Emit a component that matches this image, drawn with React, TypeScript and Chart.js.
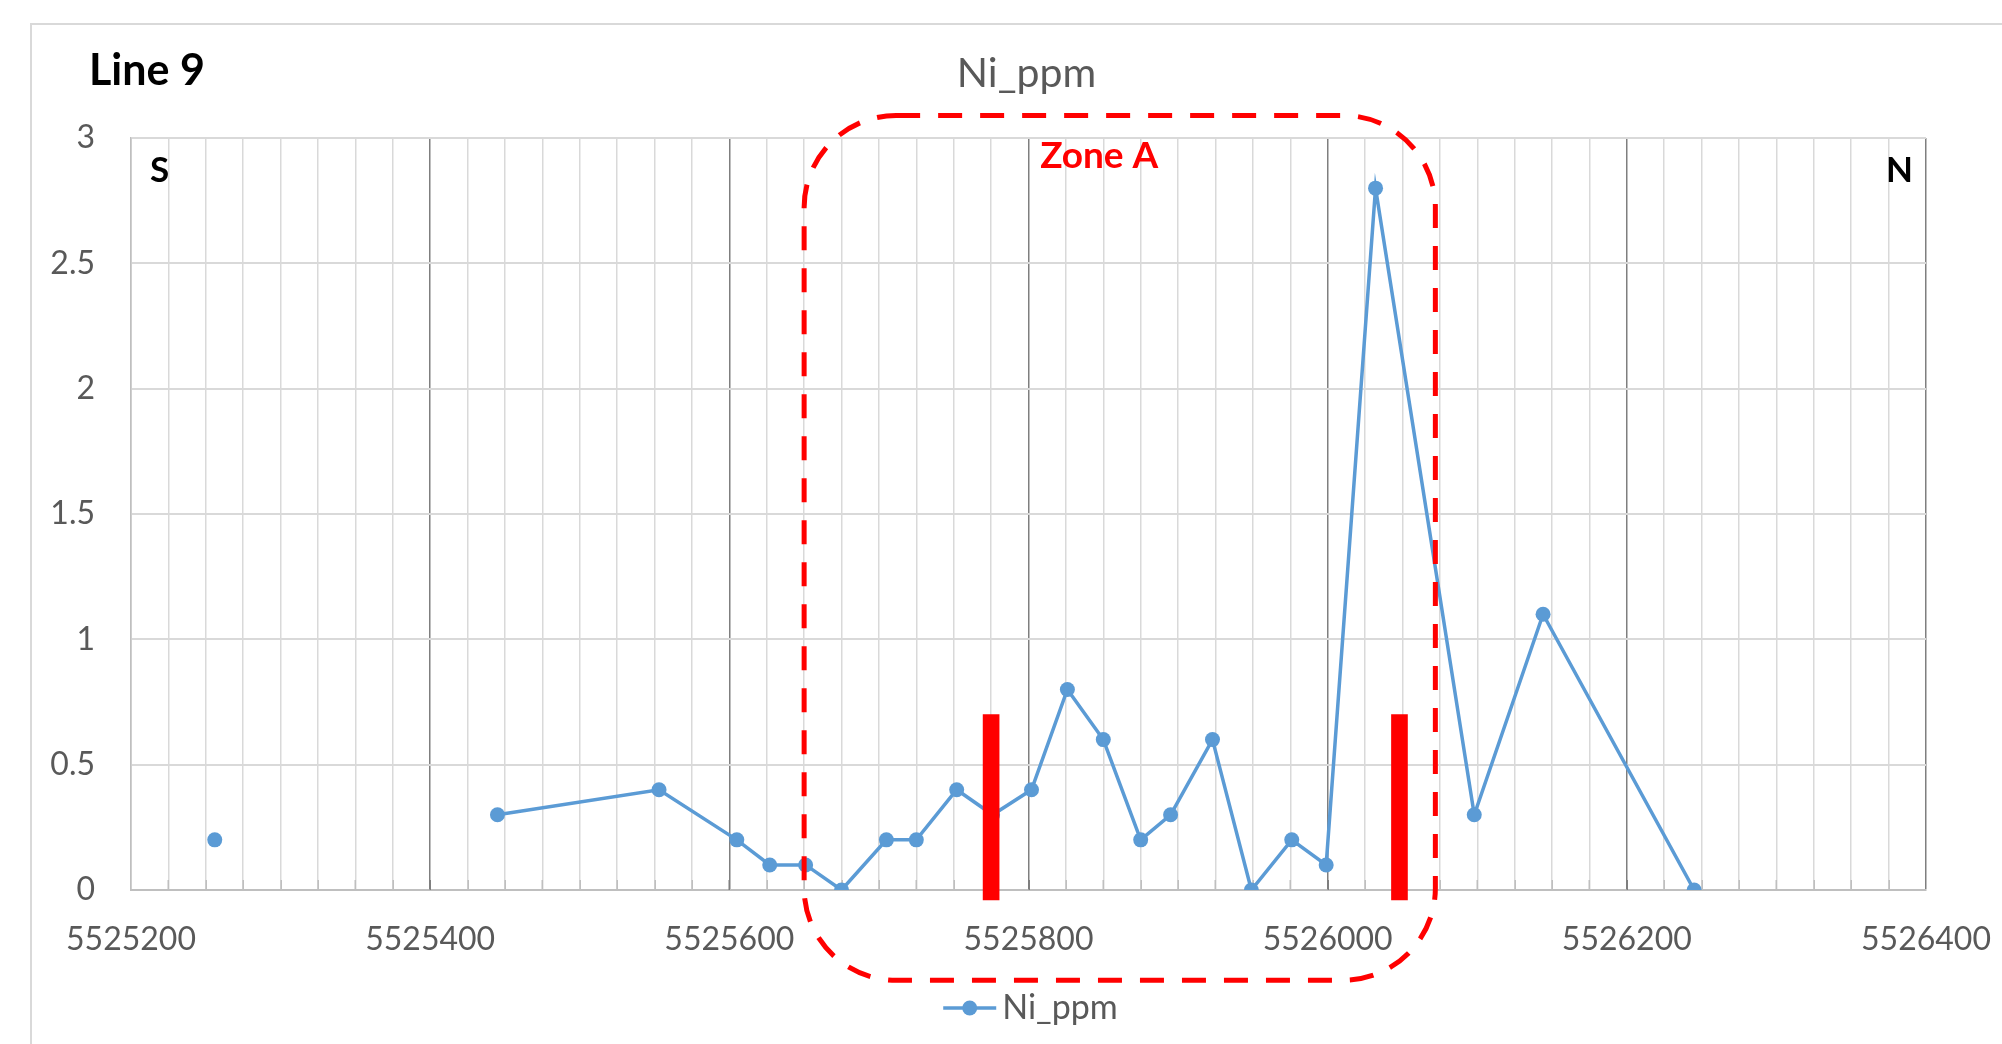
import React, { useEffect, useRef } from 'react';
import { Chart, registerables } from 'chart.js';

Chart.register(...registerables);

// ---- data ----
const northing = [
  5525256, 5525350, 5525445, 5525553, 5525605, 5525627, 5525651, 5525675,
  5525705, 5525725, 5525752, 5525776, 5525802, 5525826, 5525850, 5525875,
  5525895, 5525923, 5525949, 5525976, 5525999, 5526032, 5526098, 5526144,
  5526245,
];
const niPpm = [
  0.2, null, 0.3, 0.4, 0.2, 0.1, 0.1, 0, 0.2, 0.2, 0.4, 0.3, 0.4, 0.8, 0.6,
  0.2, 0.3, 0.6, 0, 0.2, 0.1, 2.8, 0.3, 1.1, 0,
];
const markerNorthing = [5525775, 5526048];
const markerRange = [-0.04, 0.7];
const zoneNorthing = [5525650, 5526072];
const zoneValue = [-0.36, 3.09];
const xRange = [5525200, 5526400];
const xMajorStep = 200;
const xMinorStep = 25;
const yRange = [0, 3];
const yStep = 0.5;
const seriesName = 'Ni_ppm';
const chartTitle = 'Ni_ppm';
const lineLabel = 'Line 9';
const zoneLabel = 'Zone A';
const southLabel = 'S';
const northLabel = 'N';

const FONT = 'Lato, "Open Sans", sans-serif';
const BLUE = '#5B9BD5';
const RED = '#FF0000';
const GREY_TEXT = '#595959';

const decorPlugin = {
  id: 'decor',
  beforeDraw(chart: any) {
    const { ctx, width, height } = chart;
    ctx.save();
    ctx.fillStyle = '#ffffff';
    ctx.fillRect(0, 0, width, height);
    ctx.strokeStyle = '#d9d9d9';
    ctx.lineWidth = 2;
    ctx.strokeRect(31, 24, width + 40, height + 40);
    ctx.restore();
  },
  beforeDatasetsDraw(chart: any) {
    const { ctx, chartArea } = chart;
    const xs = chart.scales.x;
    ctx.save();
    ctx.lineWidth = 1.5;
    for (let v = xRange[0] + xMinorStep; v < xRange[1]; v += xMinorStep) {
      const px = Math.round(xs.getPixelForValue(v)) + 0.25;
      ctx.strokeStyle = v % xMajorStep === 0 ? '#7f7f7f' : '#bfbfbf';
      ctx.beginPath();
      ctx.moveTo(px, chartArea.bottom);
      ctx.lineTo(px, chartArea.bottom - 10);
      ctx.stroke();
    }
    ctx.restore();
  },
  afterDatasetsDraw(chart: any) {
    const { ctx, chartArea } = chart;
    const xs = chart.scales.x;
    const ys = chart.scales.y;
    ctx.save();
    // zone box
    const l = xs.getPixelForValue(zoneNorthing[0]);
    const r = xs.getPixelForValue(zoneNorthing[1]);
    const t = ys.getPixelForValue(zoneValue[1]);
    const b = ys.getPixelForValue(zoneValue[0]);
    ctx.strokeStyle = RED;
    ctx.lineWidth = 5;
    ctx.setLineDash([24, 18]);
    ctx.beginPath();
    ctx.roundRect(l, t, r - l, b - t, 92);
    ctx.stroke();
    ctx.setLineDash([]);

    // texts
    ctx.textBaseline = 'alphabetic';
    ctx.fillStyle = '#000000';
    ctx.font = `bold 43px ${FONT}`;
    ctx.textAlign = 'left';
    ctx.fillText(lineLabel, 89, 85);

    ctx.fillStyle = GREY_TEXT;
    ctx.font = `41px ${FONT}`;
    ctx.textAlign = 'center';
    const cx = (chartArea.left + chartArea.right) / 2;
    ctx.fillText(chartTitle, cx - 2, 87);

    ctx.fillStyle = '#000000';
    ctx.font = `bold 35px ${FONT}`;
    ctx.textAlign = 'left';
    ctx.fillText(southLabel, chartArea.left + 19, 182);
    ctx.textAlign = 'right';
    ctx.fillText(northLabel, chartArea.right - 13, 182);

    ctx.fillStyle = RED;
    ctx.font = `bold 37px ${FONT}`;
    ctx.textAlign = 'left';
    ctx.fillText(zoneLabel, l + 236, 168);

    // legend
    ctx.font = `34px ${FONT}`;
    const tw = ctx.measureText(seriesName).width;
    const total = 53 + 6 + tw;
    const sx = cx + 2 - total / 2;
    const ly = 1008;
    ctx.strokeStyle = BLUE;
    ctx.lineWidth = 3.5;
    ctx.beginPath();
    ctx.moveTo(sx, ly);
    ctx.lineTo(sx + 53, ly);
    ctx.stroke();
    ctx.fillStyle = BLUE;
    ctx.beginPath();
    ctx.arc(sx + 26.5, ly, 7.5, 0, Math.PI * 2);
    ctx.fill();
    ctx.fillStyle = GREY_TEXT;
    ctx.textAlign = 'left';
    ctx.fillText(seriesName, sx + 59, 1019);
    ctx.restore();
  },
};

export default function App() {
  const ref = useRef<HTMLCanvasElement | null>(null);
  useEffect(() => {
    if (!ref.current) return;
    const points = northing.map((x, i) => ({ x, y: niPpm[i] }));
    const bars = markerNorthing.map((x) => ({ x, y: [markerRange[0], markerRange[1]] }));
    const chart = new Chart(ref.current, {
      type: 'line',
      data: {
        datasets: [
          {
            type: 'bar',
            label: 'markers',
            data: bars as any,
            backgroundColor: RED,
            borderWidth: 0,
            barThickness: 16,
            clip: false as any,
            order: 0,
          } as any,
          {
            type: 'line',
            label: seriesName,
            data: points as any,
            borderColor: BLUE,
            backgroundColor: BLUE,
            borderWidth: 3.5,
            pointRadius: 7.5,
            pointBackgroundColor: BLUE,
            pointBorderWidth: 0,
            pointHoverRadius: 7.5,
            tension: 0,
            spanGaps: false,
            order: 1,
          } as any,
        ],
      },
      options: {
        responsive: false,
        animation: false,
        events: [],
        layout: { padding: { left: 0, top: 138, right: 76, bottom: 74 } },
        plugins: {
          legend: { display: false },
          title: { display: false },
          tooltip: { enabled: false },
        },
        scales: {
          x: {
            type: 'linear',
            min: xRange[0],
            max: xRange[1],
            offset: false,
            afterFit: (s: any) => {
              s.height = 80;
              s.paddingLeft = 0;
              s.paddingRight = 0;
            },
            ticks: {
              stepSize: xMinorStep,
              maxTicksLimit: 1000,
              autoSkip: false,
              maxRotation: 0,
              minRotation: 0,
              padding: 30,
              color: GREY_TEXT,
              font: { family: FONT, size: 32 },
              callback: (v: any) => (Number(v) % xMajorStep === 0 ? String(v) : ''),
            },
            grid: {
              offset: false,
              drawTicks: false,
              color: (c: any) => {
                const v = c.tick ? c.tick.value : 0;
                if (v === xRange[0]) return '#bfbfbf';
                return v % xMajorStep === 0 ? '#7f7f7f' : '#d9d9d9';
              },
              lineWidth: 1.5,
            },
            border: { display: true, color: '#bfbfbf', width: 2 },
          },
          y: {
            type: 'linear',
            min: yRange[0],
            max: yRange[1],
            afterFit: (s: any) => {
              s.width = 131;
            },
            ticks: {
              stepSize: yStep,
              padding: 36,
              color: GREY_TEXT,
              font: { family: FONT, size: 32 },
              callback: (v: any) => String(Number(v)),
            },
            grid: { drawTicks: false, color: '#d9d9d9', lineWidth: 2 },
            border: { display: true, color: '#bfbfbf', width: 1.5 },
          },
        },
      } as any,
      plugins: [decorPlugin],
    });
    return () => chart.destroy();
  }, []);
  return (
    <div style={{ position: 'fixed', left: 0, top: 0, width: 2002, height: 1044, background: '#fff' }}>
      <canvas ref={ref} width={2002} height={1044} style={{ display: 'block', width: 2002, height: 1044 }} />
    </div>
  );
}
